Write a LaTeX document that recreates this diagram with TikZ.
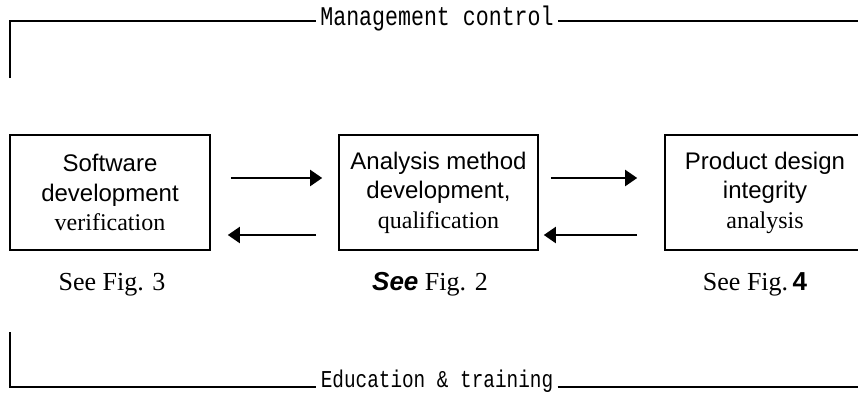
\documentclass[tikz,border=0pt]{standalone}
\usepackage{fontspec}
\setmainfont{Liberation Serif}
\setsansfont{Liberation Sans}
\setmonofont{Liberation Mono}
\newfontfamily\narrowmono[FakeStretch=0.8]{Liberation Mono}
\usetikzlibrary{arrows.meta}

\begin{document}
\begin{tikzpicture}[x=0.5pt, y=-0.5pt,
    block/.style={draw, line width=0.8pt, minimum height=57.5pt, inner sep=0pt,
        align=center, font=\sffamily\fontsize{12}{14.75}\selectfont},
    flow/.style={-{Triangle[length=6pt,width=8pt]}, line width=1pt},
    frame/.style={line width=0.9pt},
    seefig/.style={anchor=base, font=\fontsize{13}{15}\selectfont},
    title/.style={inner xsep=2pt, font=\narrowmono\fontsize{13.5}{15}\selectfont}]
    \clip (0,0) rectangle (858,397);
    \node[block, minimum width=100pt] (sw) at (110,192.5)
        {Software\\development\\{\rmfamily verification}};
    \node[block, minimum width=99.5pt] (am) at (438.5,192.5)
        {Analysis method\\development,\\{\rmfamily qualification}};
    \node[block, minimum width=100pt] (pd) at (765,192.5)
        {Product design\\integrity\\{\rmfamily analysis}};
    \node[seefig] (f3) at (112,290) {See Fig. 3};
    \node[seefig] (f2) at (430,290) {{\sffamily\bfseries\itshape See} Fig. 2};
    \node[seefig] (f4) at (755,290) {See Fig.\,{\sffamily\bfseries 4}};
    \draw[flow, shorten <=10pt, shorten >=8pt] ([yshift=7.25pt]sw.east) -- ([yshift=7.25pt]am.west);
    \draw[flow, shorten <=11pt, shorten >=8.5pt] ([yshift=-21.25pt]am.west) -- ([yshift=-21.25pt]sw.east);
    \draw[flow, shorten <=6pt, shorten >=13.5pt] ([yshift=7.25pt]am.east) -- ([yshift=7.25pt]pd.west);
    \draw[flow, shorten <=13.5pt, shorten >=2.5pt] ([yshift=-21.25pt]pd.west) -- ([yshift=-21.25pt]am.east);
    \node[title, anchor=mid] (mgmt) at (437,21) {Management control};
    \node[title, anchor=base, font=\narrowmono\fontsize{12.1}{14}\selectfont] (edu) at (437,387) {Education \& training};
    \coordinate (mtop) at (10,78);
    \coordinate (mend) at (858,21);
    \coordinate (ebot) at (10,332);
    \coordinate (eend) at (858,387);
    \draw[frame] (mtop) |- (mgmt.mid west);
    \draw[frame] (mgmt.mid east) -- (mend);
    \draw[frame] (ebot) |- (edu.base west);
    \draw[frame] (edu.base east) -- (eend);
\end{tikzpicture}
\end{document}
